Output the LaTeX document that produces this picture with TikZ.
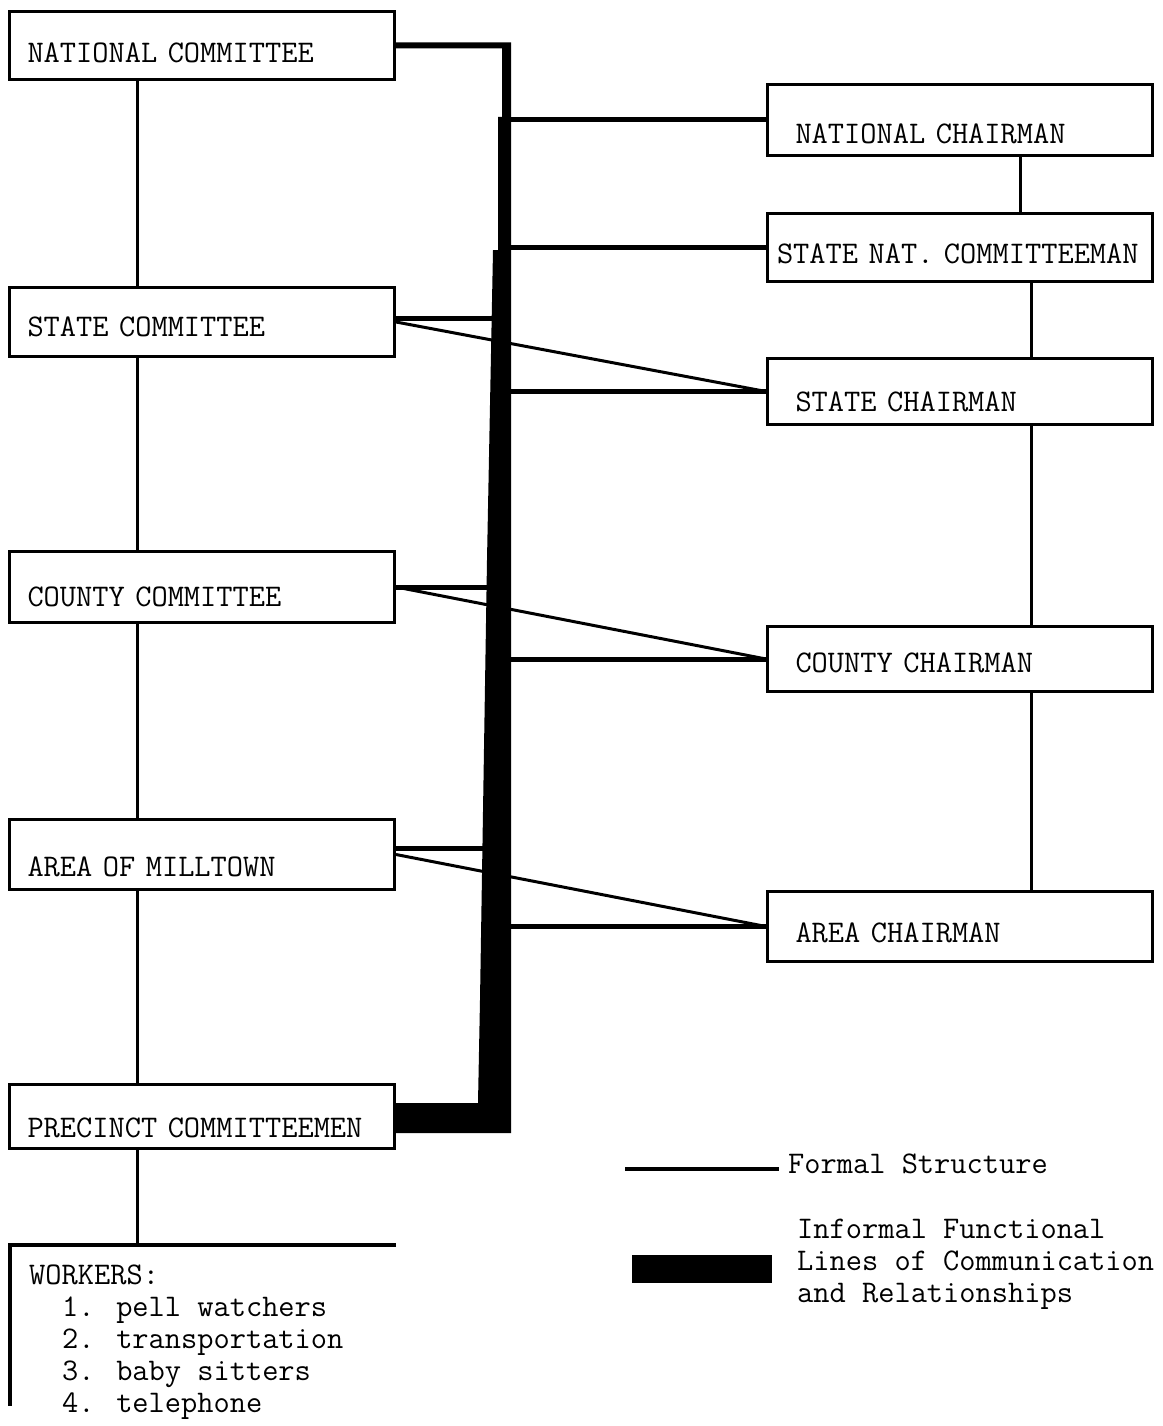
\documentclass[tikz,border=0pt]{standalone}
\usepackage{tikz}
\tikzstyle{box_left} = [draw, rectangle, line width=3pt, font=\ttfamily\fontsize{31.5}{32}\selectfont, align=left, text width=349pt, inner xsep=18pt, inner ysep=0pt, text depth=0pt]
\tikzstyle{box_right} = [box_left, text width=329pt, inner xsep=28pt]
\tikzstyle{edge_formal} = [line width=3pt]
\tikzstyle{edge_informal} = [line width=5pt]
\tikzstyle{edge_trunk} = [fill=black]
\tikzstyle{text_plain} = [font=\ttfamily\fontsize{31.5}{32}\selectfont, inner sep=0pt, align=left]

\begin{document}
\begin{tikzpicture}[x=1pt,y=-1pt]
			\useasboundingbox (0,0) rectangle (1162,1426);

			\node (NC) at (202,45.5) [box_left, minimum height=68pt, text height=33.2pt] {NATIONAL COMMITTEE};
			\node (SC) at (202,322) [box_left, minimum height=69pt, text height=29.2pt] {STATE COMMITTEE};
			\node (CC) at (202,587) [box_left, minimum height=71pt, text height=38.2pt] {COUNTY COMMITTEE};
			\node (AM) at (202,854.5) [box_left, minimum height=70pt, text height=44.2pt] {AREA OF MILLTOWN};
			\node (PC) at (202,1116.5) [box_left, minimum height=64pt, text height=41.2pt] {PRECINCT COMMITTEEMEN};

			\node (NCH) at (960,120) [box_right, minimum height=71pt, text height=47.2pt] {NATIONAL CHAIRMAN};
			\node (SNC) at (960,247.5) [box_right, minimum height=68pt, text height=31.2pt, text width=366pt, inner xsep=9.5pt] {STATE NAT. COMMITTEEMAN};
			\node (SCH) at (960,391.5) [box_right, minimum height=66pt, text height=39.2pt] {STATE CHAIRMAN};
			\node (CCH) at (960,659) [box_right, minimum height=65pt, text height=27.2pt] {COUNTY CHAIRMAN};
			\node (ACH) at (960,926.5) [box_right, minimum height=70pt, text height=31.2pt] {AREA CHAIRMAN};

			\coordinate (L) at (137,0);
			\coordinate (R1) at (1020,0);
			\coordinate (R2) at (1031,0);
			\coordinate (T) at (500,0);

			\draw[edge_formal] (NC.south -| L)--(SC.north -| L) (SC.south -| L)--(CC.north -| L) (CC.south -| L)--(AM.north -| L) (AM.south -| L)--(PC.north -| L);
			\draw[edge_formal] (NCH.south -| R1)--(SNC.north -| R1);
			\draw[edge_formal] (SNC.south -| R2)--(SCH.north -| R2) (SCH.south -| R2)--(CCH.north -| R2) (CCH.south -| R2)--(ACH.north -| R2);
			\draw[edge_formal] (SC.east)--(SCH.west) (CC.east)--(CCH.west) (AM.east)--(ACH.west);

			\draw[edge_informal] ([yshift=4]SC.east)--++(100,0) (CC.east)--++(100,0) ([yshift=6]AM.east)--++(100,0);
			\draw[edge_informal] (NCH.west -| T)--(NCH.west) (SNC.west -| T)--(SNC.west) (SCH.west -| T)--(SCH.west) (CCH.west -| T)--(CCH.west) (ACH.west -| T)--(ACH.west);

			\fill[edge_trunk] ([yshift=3]NC.east)--(511,42.5)--(511,1133)--([yshift=-16.5]PC.east)--([yshift=13.5]PC.east)--(478,1103)--(480,1000)--(487,560)--(493,250)--(498,250)--(498,117)--(502,117)--(502,48.5)--([yshift=-3]NC.east)--cycle;

			\coordinate (WR) at (396,1245);
			\coordinate (WL) at (10,1245);
			\coordinate (WB) at (10,1406);
			\draw[edge_formal] (PC.south -| L)--(L |- WL);
			\draw[edge_formal, line width=4pt] (WR)--(WL)--(WB);
			\node (W) at (29,1264.8) [text_plain, anchor=north west] {WORKERS:\\\hspace*{33pt}1. pell watchers\\\hspace*{33pt}2. transportation\\\hspace*{33pt}3. baby sitters\\\hspace*{33pt}4. telephone};

			\coordinate (LF1) at (625,1169);
			\coordinate (LF2) at (779,1169);
			\coordinate (LI1) at (632,1269);
			\coordinate (LI2) at (772,1269);
			\draw[edge_formal, line width=4pt] (LF1)--(LF2);
			\draw[line width=28pt] (LI1)--(LI2);
			\node (FS) at (788,1173) [text_plain, anchor=base west] {Formal Structure};
			\node (IF) at (797,1218.8) [text_plain, anchor=north west] {Informal Functional\\Lines of Communication\\and Relationships};
		\end{tikzpicture}
\end{document}
